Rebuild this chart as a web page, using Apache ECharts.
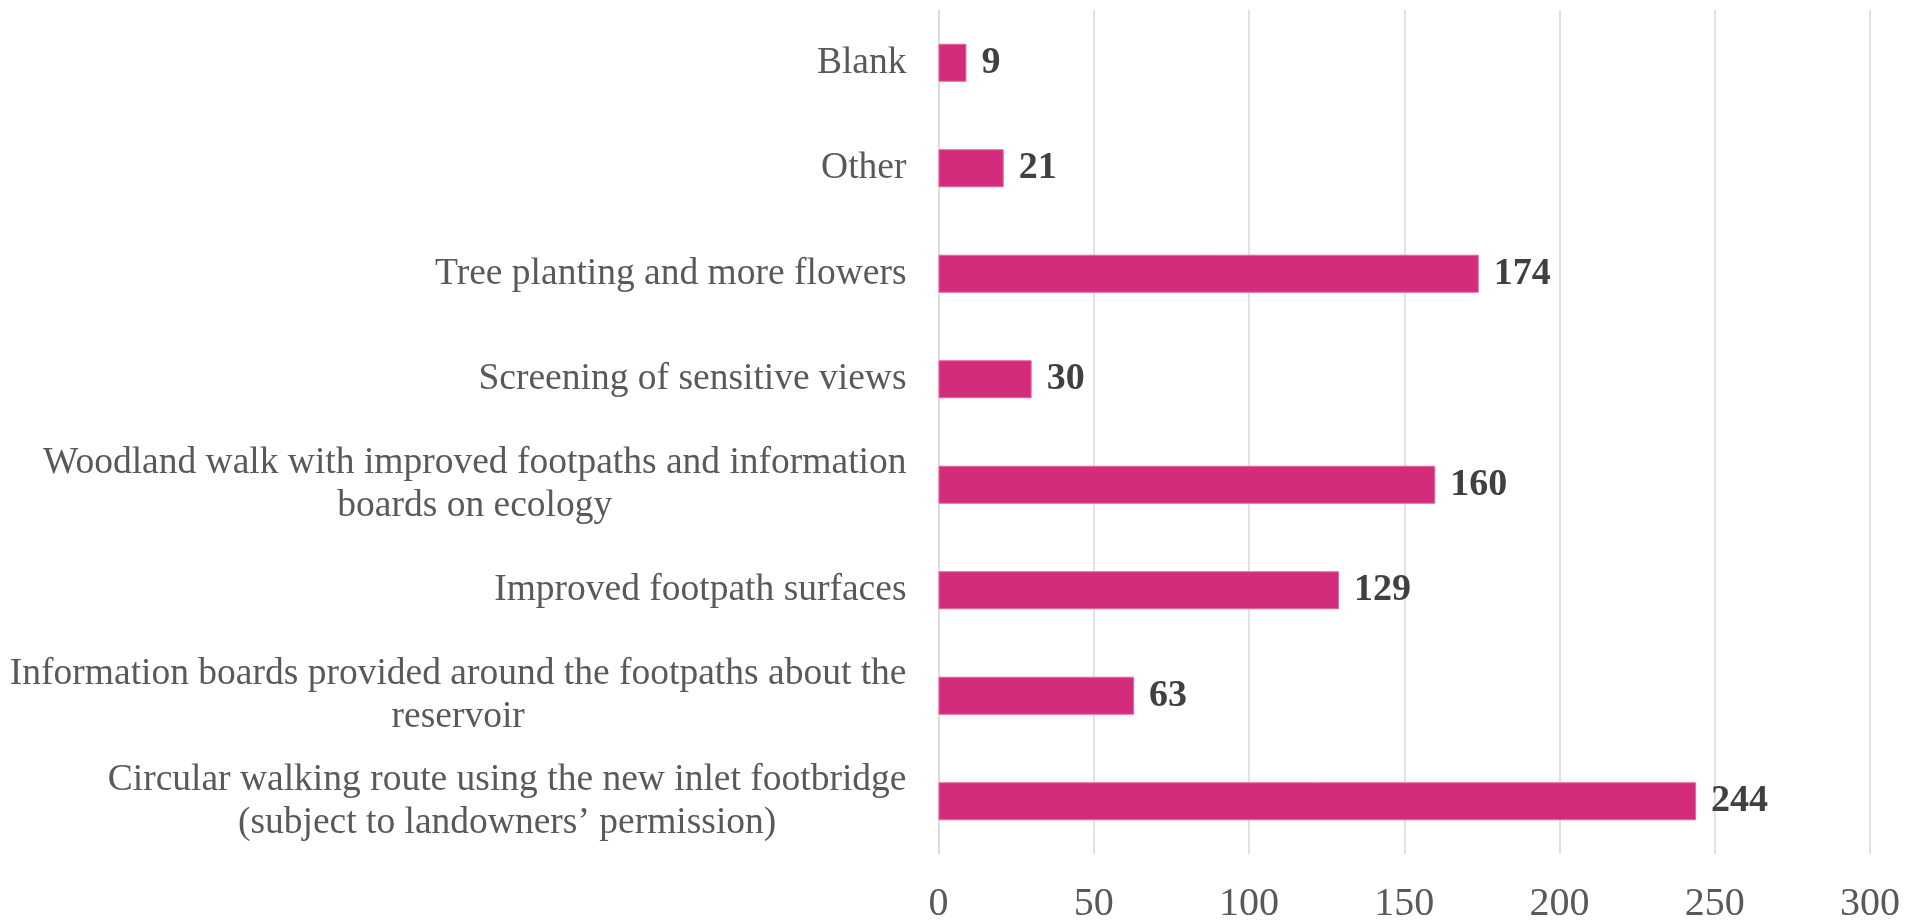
<!DOCTYPE html>
<html>
<head>
<meta charset="utf-8">
<script src="https://cdn.jsdelivr.net/npm/echarts@6/dist/echarts.min.js"></script>
<style>
  html, body { margin: 0; padding: 0; background: #fff; }
  #chart { width: 1914px; height: 923px; }
</style>
</head>
<body>
<div id="chart"></div>
<script>
// categories, top to bottom
const categories = [
  'Blank',
  'Other',
  'Tree planting and more flowers',
  'Screening of sensitive views',
  'Woodland walk with improved footpaths and information\nboards on ecology',
  'Improved footpath surfaces',
  'Information boards provided around the footpaths about the\nreservoir',
  'Circular walking route using the new inlet footbridge\n(subject to landowners\u2019 permission)'
];
const counts = [9, 21, 174, 30, 160, 129, 63, 244];

const FONT = '"Liberation Serif", "Times New Roman", serif';

let chart = echarts.init(document.getElementById('chart'));
chart.setOption({
  animation: false,
  grid: {
    left: 938.5, right: 44, top: 10, bottom: 69,
    containLabel: false,
    outerBoundsMode: 'none'
  },
  xAxis: {
    type: 'value',
    min: 0,
    max: 300,
    interval: 50,
    axisLine: { show: false },
    axisTick: { show: false },
    splitLine: { lineStyle: { color: '#d9d9d9', width: 1.5 } },
    axisLabel: { color: '#595959', fontFamily: FONT, fontSize: 40, margin: 30 }
  },
  yAxis: {
    type: 'category',
    inverse: true,
    data: categories,
    axisLine: { show: true, lineStyle: { color: '#d9d9d9', width: 1.5 } },
    axisTick: { show: false },
    axisLabel: {
      align: 'right',
      margin: 32,
      // each line centred inside the right-aligned block
      formatter: function (v) {
        return v.split('\n').map(function (s) { return '{c|' + s + '}'; }).join('\n');
      },
      rich: {
        c: { align: 'center', color: '#595959', fontFamily: FONT, fontSize: 37.5, lineHeight: 43 }
      }
    }
  },
  series: [{
    name: 'count',
    type: 'bar',
    data: counts,
    barWidth: 38,
    itemStyle: { color: '#d32c7b', borderColor: '#e5679f', borderWidth: 1 },
    label: {
      show: true,
      position: 'right',
      distance: 15,
      color: '#404040',
      fontFamily: FONT,
      fontWeight: 'bold',
      fontSize: 38
    }
  }]
});
</script>
</body>
</html>
